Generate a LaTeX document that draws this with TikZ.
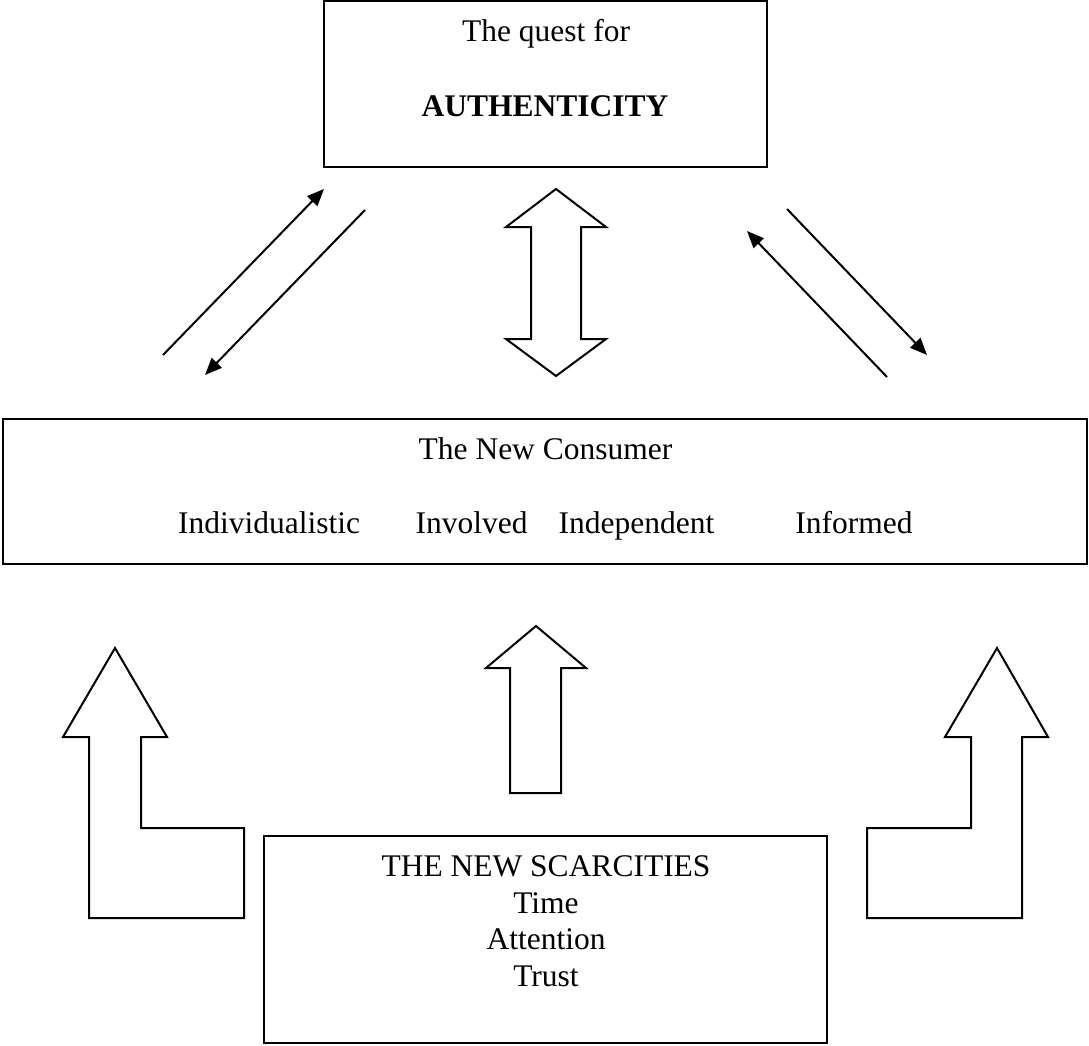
\documentclass[tikz,border=0pt]{standalone}
\usepackage{fontspec}
\setmainfont{Liberation Serif}
\usetikzlibrary{arrows.meta}
\begin{document}
\begin{tikzpicture}[x=1pt,y=-1pt,
  box/.style={draw,line width=2pt,inner sep=0pt},
  txt/.style={font=\fontsize{31.5}{37}\selectfont,inner sep=0pt,anchor=base},
  thinarrow/.style={line width=2pt,-{Triangle[length=17pt,width=14pt]}},
  blockarrow/.style={draw,line width=2pt,line join=miter,fill=white}]
\useasboundingbox (0,0) rectangle (1089,1046);
% boxes
\node[box,minimum width=443pt,minimum height=166pt] (top) at (545.5,84) {};
\node[box,minimum width=1084pt,minimum height=145pt] (mid) at (545,491.5) {};
\node[box,minimum width=563pt,minimum height=207pt] (bot) at (545.5,939.5) {};
% texts
\node[txt] (t1) at (546,42) {The quest for};
\node[txt] (t2) at (545,117) {\textbf{AUTHENTICITY}};
\node[txt] (m1) at (545.5,459) {The New Consumer};
\node[txt] (m2) at (269,533) {Individualistic};
\node[txt] (m3) at (471.5,533) {Involved};
\node[txt] (m4) at (636.5,533) {Independent};
\node[txt] (m5) at (854,533) {Informed};
\node[txt] (b1) at (546,876) {THE NEW SCARCITIES};
\node[txt] (b2) at (546,913) {Time};
\node[txt] (b3) at (546,949) {Attention};
\node[txt] (b4) at (546,986) {Trust};
% thin arrows
\coordinate (a1s) at (163,355); \coordinate (a1e) at (324,189);
\coordinate (a2s) at (365,210); \coordinate (a2e) at (205,375);
\coordinate (a3s) at (887,377); \coordinate (a3e) at (747,231);
\coordinate (a4s) at (787,209); \coordinate (a4e) at (927,355);
\draw[thinarrow] (a1s) -- (a1e);
\draw[thinarrow] (a2s) -- (a2e);
\draw[thinarrow] (a3s) -- (a3e);
\draw[thinarrow] (a4s) -- (a4e);
% block arrows
\draw[blockarrow] (556,189) -- (606,227) -- (581,227) -- (581,339) -- (606,339) -- (556,376) -- (506,339) -- (531,339) -- (531,227) -- (506,227) -- cycle;
\draw[blockarrow] (536,626) -- (586,668) -- (561,668) -- (561,793) -- (510,793) -- (510,668) -- (486,668) -- cycle;
\draw[blockarrow] (115,648) -- (167,737) -- (141,737) -- (141,828) -- (244,828) -- (244,918) -- (89,918) -- (89,737) -- (63,737) -- cycle;
\draw[blockarrow] (997,648) -- (1048,737) -- (1022,737) -- (1022,918) -- (867,918) -- (867,828) -- (971,828) -- (971,737) -- (945,737) -- cycle;
\end{tikzpicture}
\end{document}
